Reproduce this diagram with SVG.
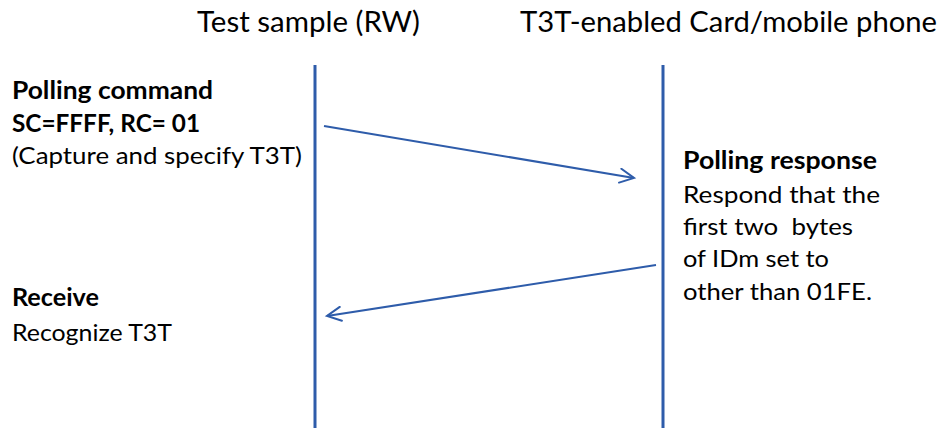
<svg xmlns="http://www.w3.org/2000/svg" width="942" height="428" viewBox="0 0 942 428">
<style>
text{font-family:Lato,"Open Sans","Liberation Sans",sans-serif;fill:#000}
.t{font-size:28px}
.b{font-size:24px;font-weight:bold}
.n{font-size:24px}
.life{stroke:#2E5CAA;stroke-width:3;fill:none}
.msg{stroke:#2E5CAA;stroke-width:2;fill:none}
</style>
<defs>
<marker id="ah" markerWidth="24" markerHeight="24" refX="15" refY="8" orient="auto" markerUnits="userSpaceOnUse">
<path d="M1,1 L15,8 L1,15" fill="none" stroke="#2E5CAA" stroke-width="2" stroke-linecap="round"/>
</marker>
</defs>
<g id="rw">
<text class="t" x="197" y="32" textLength="223" lengthAdjust="spacingAndGlyphs">Test sample (RW)</text>
<line class="life" x1="315" y1="65" x2="315" y2="428"/>
</g>
<g id="card">
<text class="t" x="520" y="32" textLength="417" lengthAdjust="spacingAndGlyphs">T3T-enabled Card/mobile phone</text>
<line class="life" x1="663" y1="65" x2="663" y2="428"/>
</g>
<g id="cmd">
<text class="b" x="12" y="99" textLength="201" lengthAdjust="spacingAndGlyphs">Polling command</text>
<text class="b" x="12" y="132" textLength="188" lengthAdjust="spacingAndGlyphs">SC=FFFF, RC= 01</text>
<text class="n" x="12" y="164" textLength="290" lengthAdjust="spacingAndGlyphs">(Capture and specify T3T)</text>
</g>
<g id="resp">
<text class="b" x="683" y="169" textLength="194" lengthAdjust="spacingAndGlyphs">Polling response</text>
<text class="n" x="683" y="203" textLength="197" lengthAdjust="spacingAndGlyphs">Respond that the</text>
<text class="n" x="683" y="235" textLength="170" lengthAdjust="spacingAndGlyphs" xml:space="preserve">first two  bytes</text>
<text class="n" x="683" y="267" textLength="146" lengthAdjust="spacingAndGlyphs">of IDm set to</text>
<text class="n" x="683" y="300" textLength="189" lengthAdjust="spacingAndGlyphs">other than 01FE.</text>
</g>
<g id="recv">
<text class="b" x="12" y="306" textLength="87" lengthAdjust="spacingAndGlyphs">Receive</text>
<text class="n" x="12" y="341" textLength="160" lengthAdjust="spacingAndGlyphs">Recognize T3T</text>
</g>
<g id="connectors">
<line class="msg" x1="324" y1="126" x2="634" y2="178" marker-end="url(#ah)"/>
<line class="msg" x1="656" y1="265" x2="327" y2="316" marker-end="url(#ah)"/>
</g>
</svg>
